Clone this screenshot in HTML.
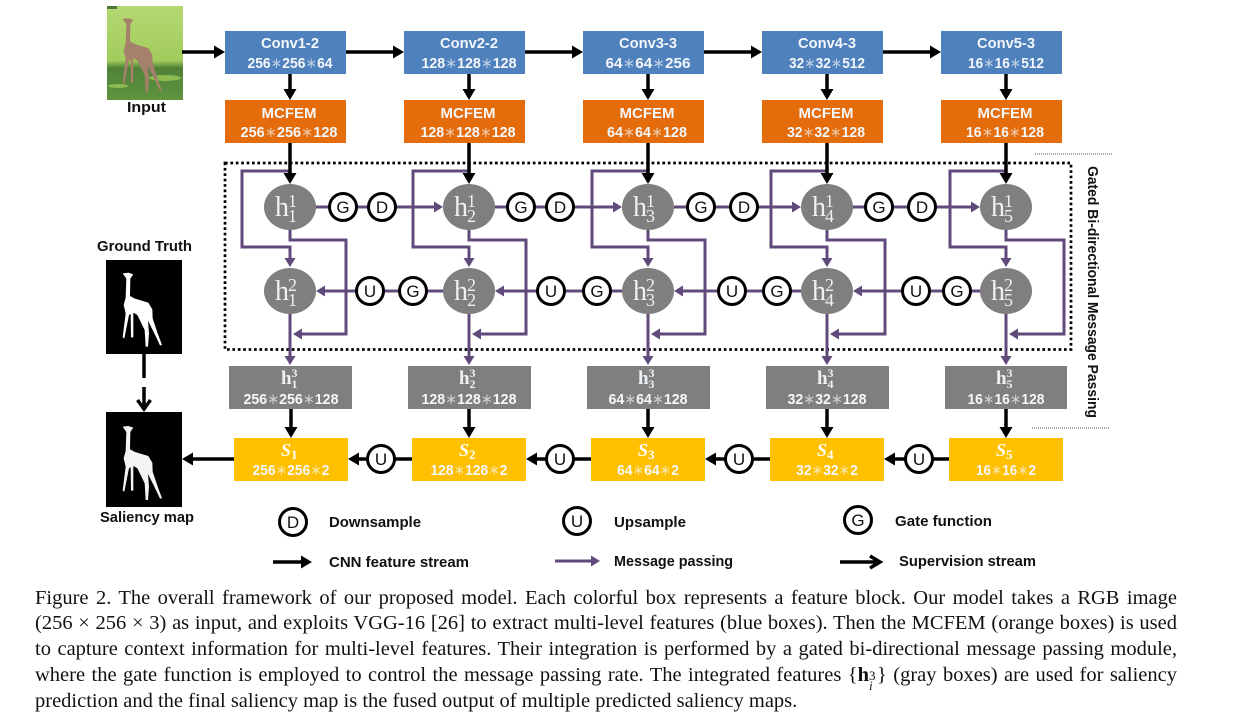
<!DOCTYPE html>
<html><head><meta charset="utf-8">
<style>
html,body{margin:0;padding:0;background:#fff;width:1238px;height:725px;overflow:hidden}
svg{position:absolute;left:0;top:0}
text{font-family:"Liberation Sans",sans-serif}
.w{font-weight:bold;font-size:15px;fill:#f4f7fb;text-anchor:middle}
.a{font-weight:normal;fill-opacity:.65}
.k{font-weight:bold;font-size:15px;fill:#111}
.c{font-size:17px;fill:#111;text-anchor:middle}
.m{font-family:"Liberation Serif",serif;fill:#edf1f4}
.s{font-family:"Liberation Serif",serif;font-weight:bold;font-style:italic;font-size:18px;fill:#fff}
.cap{position:absolute;left:35px;width:1142px;font:20.5px/24px "Liberation Serif",serif;color:#111;white-space:nowrap;text-align:justify;text-align-last:justify}
.cap.l{text-align-last:left}
</style></head><body>
<svg width="1238" height="725" viewBox="0 0 1238 725" xmlns="http://www.w3.org/2000/svg">
<defs>
<marker id="b" markerUnits="userSpaceOnUse" markerWidth="11" markerHeight="13" viewBox="0 0 11 13" refX="6" refY="6.500" orient="auto"><path d="M0,0L11,6.500L0,13z" fill="#000"/></marker>
<marker id="p" markerUnits="userSpaceOnUse" markerWidth="9" markerHeight="11" viewBox="0 0 9 11" refX="5" refY="5.500" orient="auto"><path d="M0,0L9,5.500L0,11z" fill="#604a7b"/></marker>
<linearGradient id="gr" x1="0" y1="0" x2="0" y2="1"><stop offset="0" stop-color="#b5d873"/><stop offset=".58" stop-color="#a2cc5c"/><stop offset=".66" stop-color="#4f8238"/><stop offset="1" stop-color="#5f9440"/></linearGradient>
<polygon id="gf" points="128,130 145,128 160,133 151,146 150,198 165,206 205,218 217,238 218,265 233,310 246,345 240,346 224,312 204,272 207,310 204,350 197,350 194,300 172,255 160,248 160,322 153,322 152,252 147,255 133,325 128,322 137,250 131,225 137,203 139,146"/>
</defs>

<!-- images -->
<rect x="107" y="6" width="76" height="94" fill="url(#gr)"/>
<rect x="107" y="6" width="10" height="3" fill="#4d7a3a"/>
<ellipse cx="165" cy="78" rx="16" ry="3" fill="#8dbb52"/>
<ellipse cx="118" cy="86" rx="10" ry="2" fill="#8dbb52"/>
<use href="#gf" transform="translate(80,-24.500) scale(.3333)" fill="#a5806a"/>
<rect x="106" y="260" width="76" height="94" fill="#000"/>
<use href="#gf" transform="translate(80,230) scale(.3333)" fill="#fff"/>
<rect x="106" y="412" width="76" height="95" fill="#000"/>
<use href="#gf" transform="translate(80,383.300) scale(.3333)" fill="#f4f4f4"/>

<!-- boxes -->
<g fill="#4f81bd"><rect x="225" y="31" width="121" height="43"/><rect x="404" y="31" width="121" height="43"/><rect x="583" y="31" width="121" height="43"/><rect x="762" y="31" width="121" height="43"/><rect x="941" y="31" width="121" height="43"/></g>
<g fill="#e46c0a"><rect x="225" y="100" width="121" height="43"/><rect x="404" y="100" width="121" height="43"/><rect x="583" y="100" width="121" height="43"/><rect x="762" y="100" width="121" height="43"/><rect x="941" y="100" width="121" height="43"/></g>
<g fill="#7f7f7f"><rect x="229" y="366" width="123" height="43"/><rect x="408" y="366" width="123" height="43"/><rect x="587" y="366" width="123" height="43"/><rect x="766" y="366" width="123" height="43"/><rect x="945" y="366" width="122" height="43"/></g>
<g fill="#ffc000"><rect x="234" y="438" width="114" height="43"/><rect x="412" y="438" width="114" height="43"/><rect x="591" y="438" width="114" height="43"/><rect x="770" y="438" width="114" height="43"/><rect x="949" y="438" width="114" height="43"/></g>

<!-- dotted frames -->
<rect x="225" y="163" width="846" height="186.500" fill="none" stroke="#000" stroke-width="2.700" stroke-dasharray="2.700 2.700"/>
<path d="M1035,154H1112M1032,428H1109" stroke="#555" stroke-width="1" stroke-dasharray="1 1" fill="none"/>

<!-- purple connectors -->
<g fill="none" stroke="#604a7b" stroke-width="3">
<path d="M290,171H242V247H290V263" marker-end="url(#p)"/><path d="M469,171H413V247H469V263" marker-end="url(#p)"/><path d="M648,171H592V247H648V263" marker-end="url(#p)"/><path d="M827,171H771V247H827V263" marker-end="url(#p)"/><path d="M1006,171H950V247H1006V263" marker-end="url(#p)"/>
<path d="M290,230V240H346V334H297" marker-end="url(#p)"/><path d="M469,230V240H526V334H476" marker-end="url(#p)"/><path d="M648,230V240H705V334H655" marker-end="url(#p)"/><path d="M827,230V240H885V334H834" marker-end="url(#p)"/><path d="M1006,230V240H1064V334H1013" marker-end="url(#p)"/>
<path d="M290,314V361" marker-end="url(#p)"/><path d="M469,314V361" marker-end="url(#p)"/><path d="M648,314V361" marker-end="url(#p)"/><path d="M827,314V361" marker-end="url(#p)"/><path d="M1006,314V361" marker-end="url(#p)"/>
<path d="M316,207H439" marker-end="url(#p)"/><path d="M495,207H618" marker-end="url(#p)"/><path d="M674,207H797" marker-end="url(#p)"/><path d="M853,207H976" marker-end="url(#p)"/>
<path d="M443,291H320" marker-end="url(#p)"/><path d="M622,291H499" marker-end="url(#p)"/><path d="M801,291H678" marker-end="url(#p)"/><path d="M980,291H857" marker-end="url(#p)"/>
</g>

<!-- black connectors -->
<g fill="none" stroke="#000" stroke-width="3.500">
<path d="M182,52H220" marker-end="url(#b)"/><path d="M346,52H399" marker-end="url(#b)"/><path d="M525,52H578" marker-end="url(#b)"/><path d="M704,52H757" marker-end="url(#b)"/><path d="M883,52H936" marker-end="url(#b)"/>
<path d="M290,74V95" marker-end="url(#b)"/><path d="M469,74V95" marker-end="url(#b)"/><path d="M648,74V95" marker-end="url(#b)"/><path d="M827,74V95" marker-end="url(#b)"/><path d="M1006,74V95" marker-end="url(#b)"/>
<path d="M290,143V179" marker-end="url(#b)"/><path d="M469,143V179" marker-end="url(#b)"/><path d="M648,143V179" marker-end="url(#b)"/><path d="M827,143V179" marker-end="url(#b)"/><path d="M1006,143V179" marker-end="url(#b)"/>
<path d="M291,409V433" marker-end="url(#b)"/><path d="M469,409V433" marker-end="url(#b)"/><path d="M648,409V433" marker-end="url(#b)"/><path d="M827,409V433" marker-end="url(#b)"/><path d="M1006,409V433" marker-end="url(#b)"/>
<path d="M412,459H353" marker-end="url(#b)"/><path d="M591,459H531" marker-end="url(#b)"/><path d="M770,459H710" marker-end="url(#b)"/><path d="M949,459H889" marker-end="url(#b)"/>
<path d="M234,459H187" marker-end="url(#b)"/>
<path d="M144,354V378M144,387V409M137.500,400L144,409L150.500,400"/>
<path d="M273,562H307" marker-end="url(#b)"/>
<path d="M840,562H876M870,556L880,562L870,568"/>
</g>
<path d="M555,561H596" stroke="#604a7b" stroke-width="3" fill="none" marker-end="url(#p)"/>

<!-- ellipses -->
<g fill="#7f7f7f"><ellipse cx="290" cy="207" rx="26" ry="23"/><ellipse cx="469" cy="207" rx="26" ry="23"/><ellipse cx="648" cy="207" rx="26" ry="23"/><ellipse cx="827" cy="207" rx="26" ry="23"/><ellipse cx="1006" cy="207" rx="26" ry="23"/>
<ellipse cx="290" cy="291" rx="26" ry="23"/><ellipse cx="469" cy="291" rx="26" ry="23"/><ellipse cx="648" cy="291" rx="26" ry="23"/><ellipse cx="827" cy="291" rx="26" ry="23"/><ellipse cx="1006" cy="291" rx="26" ry="23"/></g>

<!-- circles -->
<g fill="#fff" stroke="#000" stroke-width="3">
<circle cx="343" cy="207" r="13.500"/><circle cx="382" cy="207" r="13.500"/><circle cx="521" cy="207" r="13.500"/><circle cx="560" cy="207" r="13.500"/><circle cx="701" cy="207" r="13.500"/><circle cx="744" cy="207" r="13.500"/><circle cx="879" cy="207" r="13.500"/><circle cx="922" cy="207" r="13.500"/>
<circle cx="370" cy="291" r="13.500"/><circle cx="413" cy="291" r="13.500"/><circle cx="551" cy="291" r="13.500"/><circle cx="597" cy="291" r="13.500"/><circle cx="732" cy="291" r="13.500"/><circle cx="777" cy="291" r="13.500"/><circle cx="916" cy="291" r="13.500"/><circle cx="957" cy="291" r="13.500"/>
<circle cx="381" cy="459" r="13.500"/><circle cx="560" cy="459" r="13.500"/><circle cx="739" cy="459" r="13.500"/><circle cx="919" cy="459" r="13.500"/>
<circle cx="293" cy="522" r="13.500"/><circle cx="577" cy="521" r="13.500"/><circle cx="858" cy="520" r="13.500"/>
</g>
<g>
<text class="c" x="343" y="213">G</text><text class="c" x="382" y="213">D</text><text class="c" x="521" y="213">G</text><text class="c" x="560" y="213">D</text><text class="c" x="701" y="213">G</text><text class="c" x="744" y="213">D</text><text class="c" x="879" y="213">G</text><text class="c" x="922" y="213">D</text>
<text class="c" x="370" y="297">U</text><text class="c" x="413" y="297">G</text><text class="c" x="551" y="297">U</text><text class="c" x="597" y="297">G</text><text class="c" x="732" y="297">U</text><text class="c" x="777" y="297">G</text><text class="c" x="916" y="297">U</text><text class="c" x="957" y="297">G</text>
<text class="c" x="381" y="465">U</text><text class="c" x="560" y="465">U</text><text class="c" x="739" y="465">U</text><text class="c" x="919" y="465">U</text>
<text class="c" x="293" y="528">D</text><text class="c" x="577" y="527">U</text><text class="c" x="858" y="526">G</text>
</g>

<!-- box labels -->
<text class="w" x="290" y="48" textLength="58" lengthAdjust="spacingAndGlyphs">Conv1-2</text><text class="w" x="469" y="48" textLength="58" lengthAdjust="spacingAndGlyphs">Conv2-2</text><text class="w" x="648" y="48" textLength="58" lengthAdjust="spacingAndGlyphs">Conv3-3</text><text class="w" x="827" y="48" textLength="58" lengthAdjust="spacingAndGlyphs">Conv4-3</text><text class="w" x="1006" y="48" textLength="58" lengthAdjust="spacingAndGlyphs">Conv5-3</text>
<text class="w" x="290" y="68" textLength="85" lengthAdjust="spacingAndGlyphs">256<tspan class="a">∗</tspan>256<tspan class="a">∗</tspan>64</text><text class="w" x="469" y="68" textLength="95" lengthAdjust="spacingAndGlyphs">128<tspan class="a">∗</tspan>128<tspan class="a">∗</tspan>128</text><text class="w" x="648" y="68" textLength="85" lengthAdjust="spacingAndGlyphs">64<tspan class="a">∗</tspan>64<tspan class="a">∗</tspan>256</text><text class="w" x="827" y="68" textLength="76" lengthAdjust="spacingAndGlyphs">32<tspan class="a">∗</tspan>32<tspan class="a">∗</tspan>512</text><text class="w" x="1006" y="68" textLength="76" lengthAdjust="spacingAndGlyphs">16<tspan class="a">∗</tspan>16<tspan class="a">∗</tspan>512</text>
<text class="w" x="289" y="118" textLength="55" lengthAdjust="spacingAndGlyphs">MCFEM</text><text class="w" x="468" y="118" textLength="55" lengthAdjust="spacingAndGlyphs">MCFEM</text><text class="w" x="647" y="118" textLength="55" lengthAdjust="spacingAndGlyphs">MCFEM</text><text class="w" x="826" y="118" textLength="55" lengthAdjust="spacingAndGlyphs">MCFEM</text><text class="w" x="1005" y="118" textLength="55" lengthAdjust="spacingAndGlyphs">MCFEM</text>
<text class="w" x="289" y="137" textLength="97" lengthAdjust="spacingAndGlyphs">256<tspan class="a">∗</tspan>256<tspan class="a">∗</tspan>128</text><text class="w" x="468" y="137" textLength="95" lengthAdjust="spacingAndGlyphs">128<tspan class="a">∗</tspan>128<tspan class="a">∗</tspan>128</text><text class="w" x="647" y="137" textLength="80" lengthAdjust="spacingAndGlyphs">64<tspan class="a">∗</tspan>64<tspan class="a">∗</tspan>128</text><text class="w" x="826" y="137" textLength="78" lengthAdjust="spacingAndGlyphs">32<tspan class="a">∗</tspan>32<tspan class="a">∗</tspan>128</text><text class="w" x="1005" y="137" textLength="78" lengthAdjust="spacingAndGlyphs">16<tspan class="a">∗</tspan>16<tspan class="a">∗</tspan>128</text>

<text class="w" x="291" y="404" textLength="95" lengthAdjust="spacingAndGlyphs">256<tspan class="a">∗</tspan>256<tspan class="a">∗</tspan>128</text><text class="w" x="469" y="404" textLength="95" lengthAdjust="spacingAndGlyphs">128<tspan class="a">∗</tspan>128<tspan class="a">∗</tspan>128</text><text class="w" x="648" y="404" textLength="79" lengthAdjust="spacingAndGlyphs">64<tspan class="a">∗</tspan>64<tspan class="a">∗</tspan>128</text><text class="w" x="827" y="404" textLength="79" lengthAdjust="spacingAndGlyphs">32<tspan class="a">∗</tspan>32<tspan class="a">∗</tspan>128</text><text class="w" x="1006" y="404" textLength="77" lengthAdjust="spacingAndGlyphs">16<tspan class="a">∗</tspan>16<tspan class="a">∗</tspan>128</text>
<text class="w" x="291" y="475" textLength="77" lengthAdjust="spacingAndGlyphs">256<tspan class="a">∗</tspan>256<tspan class="a">∗</tspan>2</text><text class="w" x="469" y="475" textLength="77" lengthAdjust="spacingAndGlyphs">128<tspan class="a">∗</tspan>128<tspan class="a">∗</tspan>2</text><text class="w" x="648" y="475" textLength="62" lengthAdjust="spacingAndGlyphs">64<tspan class="a">∗</tspan>64<tspan class="a">∗</tspan>2</text><text class="w" x="827" y="475" textLength="62" lengthAdjust="spacingAndGlyphs">32<tspan class="a">∗</tspan>32<tspan class="a">∗</tspan>2</text><text class="w" x="1006" y="475" textLength="60" lengthAdjust="spacingAndGlyphs">16<tspan class="a">∗</tspan>16<tspan class="a">∗</tspan>2</text>

<!-- S labels -->
<text class="s" x="281" y="456">S<tspan font-size="13" font-style="normal" dy="3">1</tspan></text><text class="s" x="459" y="456">S<tspan font-size="13" font-style="normal" dy="3">2</tspan></text><text class="s" x="638" y="456">S<tspan font-size="13" font-style="normal" dy="3">3</tspan></text><text class="s" x="817" y="456">S<tspan font-size="13" font-style="normal" dy="3">4</tspan></text><text class="s" x="996" y="456">S<tspan font-size="13" font-style="normal" dy="3">5</tspan></text>

<!-- ellipse math labels -->
<g>
<text class="m" x="275" y="216" font-size="28">h</text><text class="m" x="288" y="207" font-size="18">1</text><text class="m" x="288" y="222" font-size="18">1</text>
<text class="m" x="454" y="216" font-size="28">h</text><text class="m" x="467" y="207" font-size="18">1</text><text class="m" x="467" y="222" font-size="18">2</text>
<text class="m" x="633" y="216" font-size="28">h</text><text class="m" x="646" y="207" font-size="18">1</text><text class="m" x="646" y="222" font-size="18">3</text>
<text class="m" x="812" y="216" font-size="28">h</text><text class="m" x="825" y="207" font-size="18">1</text><text class="m" x="825" y="222" font-size="18">4</text>
<text class="m" x="991" y="216" font-size="28">h</text><text class="m" x="1004" y="207" font-size="18">1</text><text class="m" x="1004" y="222" font-size="18">5</text>
<text class="m" x="275" y="300" font-size="28">h</text><text class="m" x="288" y="291" font-size="18">2</text><text class="m" x="288" y="306" font-size="18">1</text>
<text class="m" x="454" y="300" font-size="28">h</text><text class="m" x="467" y="291" font-size="18">2</text><text class="m" x="467" y="306" font-size="18">2</text>
<text class="m" x="633" y="300" font-size="28">h</text><text class="m" x="646" y="291" font-size="18">2</text><text class="m" x="646" y="306" font-size="18">3</text>
<text class="m" x="812" y="300" font-size="28">h</text><text class="m" x="825" y="291" font-size="18">2</text><text class="m" x="825" y="306" font-size="18">4</text>
<text class="m" x="991" y="300" font-size="28">h</text><text class="m" x="1004" y="291" font-size="18">2</text><text class="m" x="1004" y="306" font-size="18">5</text>
</g>
<!-- gray box h3 -->
<g>
<text class="m" x="281" y="384" font-size="19" font-weight="bold">h</text><text class="m" x="291.500" y="377" font-size="12" font-weight="bold">3</text><text class="m" x="291.500" y="388" font-size="12" font-weight="bold">1</text>
<text class="m" x="459" y="384" font-size="19" font-weight="bold">h</text><text class="m" x="469.500" y="377" font-size="12" font-weight="bold">3</text><text class="m" x="469.500" y="388" font-size="12" font-weight="bold">2</text>
<text class="m" x="638" y="384" font-size="19" font-weight="bold">h</text><text class="m" x="648.500" y="377" font-size="12" font-weight="bold">3</text><text class="m" x="648.500" y="388" font-size="12" font-weight="bold">3</text>
<text class="m" x="817" y="384" font-size="19" font-weight="bold">h</text><text class="m" x="827.500" y="377" font-size="12" font-weight="bold">3</text><text class="m" x="827.500" y="388" font-size="12" font-weight="bold">4</text>
<text class="m" x="996" y="384" font-size="19" font-weight="bold">h</text><text class="m" x="1006.500" y="377" font-size="12" font-weight="bold">3</text><text class="m" x="1006.500" y="388" font-size="12" font-weight="bold">5</text>
</g>

<!-- plain labels -->
<text class="k" x="127" y="112" textLength="39" lengthAdjust="spacingAndGlyphs">Input</text>
<text class="k" x="97" y="251" textLength="95" lengthAdjust="spacingAndGlyphs">Ground Truth</text>
<text class="k" x="100" y="522" textLength="94" lengthAdjust="spacingAndGlyphs">Saliency map</text>
<text class="k" x="329" y="527" textLength="92" lengthAdjust="spacingAndGlyphs">Downsample</text>
<text class="k" x="614" y="527" textLength="72" lengthAdjust="spacingAndGlyphs">Upsample</text>
<text class="k" x="895" y="526" textLength="97" lengthAdjust="spacingAndGlyphs">Gate function</text>
<text class="k" x="329" y="567" textLength="140" lengthAdjust="spacingAndGlyphs">CNN feature stream</text>
<text class="k" x="614" y="566" textLength="119" lengthAdjust="spacingAndGlyphs">Message passing</text>
<text class="k" x="899" y="566" textLength="137" lengthAdjust="spacingAndGlyphs">Supervision stream</text>
<text class="k" transform="translate(1088,166) rotate(90)" textLength="252" lengthAdjust="spacingAndGlyphs">Gated Bi-directional Message Passing</text>
</svg>

<div class="cap" style="top:586px">Figure 2. The overall framework of our proposed model. Each colorful box represents a feature block. Our model takes a RGB image</div>
<div class="cap" style="top:611px">(256 × 256 × 3) as input, and exploits VGG-16 [26] to extract multi-level features (blue boxes). Then the MCFEM (orange boxes) is used</div>
<div class="cap" style="top:637px">to capture context information for multi-level features. Their integration is performed by a gated bi-directional message passing module,</div>
<div class="cap" style="top:663px">where the gate function is employed to control the message passing rate. The integrated features {<b>h</b><span style="display:inline-block;position:relative;width:8px;height:1px"><span style="position:absolute;left:0;top:-16px;font-size:13px">3</span><span style="position:absolute;left:0;top:-6px;font-size:13px;font-style:italic">i</span></span>} (gray boxes) are used for saliency</div>
<div class="cap l" style="top:689px">prediction and the final saliency map is the fused output of multiple predicted saliency maps.</div>
</body></html>
